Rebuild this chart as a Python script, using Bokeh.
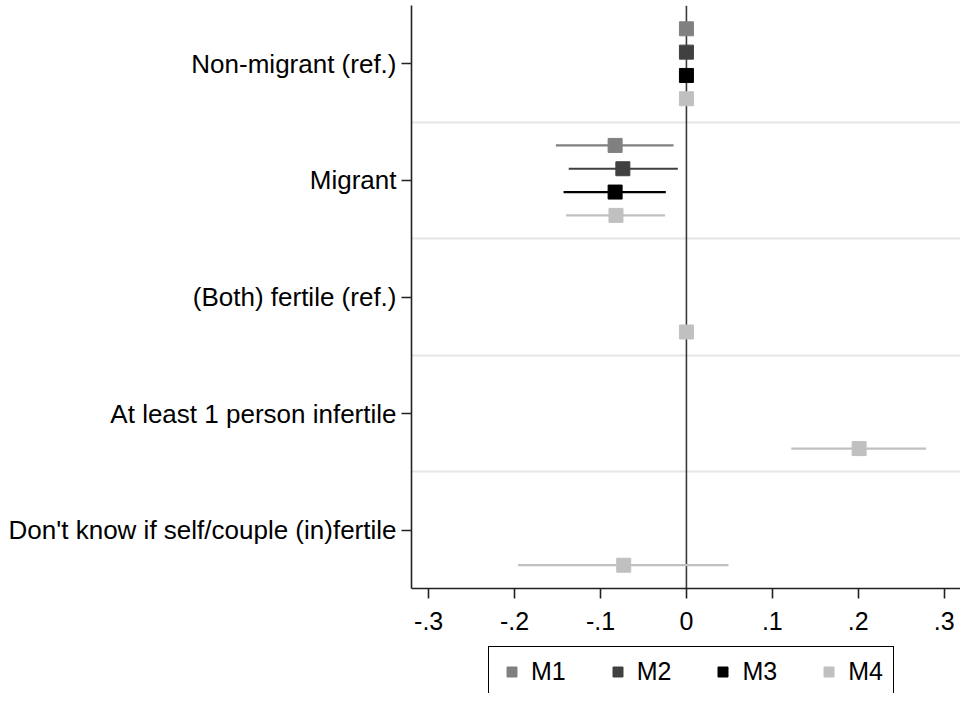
from bokeh.plotting import figure
from bokeh.layouts import column
from bokeh.models import (ColumnDataSource, Range1d, FixedTicker, Span, Legend, LegendItem)
from bokeh.embed import file_html
from bokeh.resources import INLINE
import math

# ---- data ----
categories = ["Non-migrant (ref.)", "Migrant", "(Both) fertile (ref.)",
              "At least 1 person infertile", "Don't know if self/couple (in)fertile"]
models = ["M1", "M2", "M3", "M4"]
colors = ["#808080", "#404040", "#000000", "#c0c0c0"]

nan = float("nan")
est_M1 = [0.0, -0.083, nan, nan, nan]
est_M2 = [0.0, -0.074, nan, nan, nan]
est_M3 = [0.0, -0.083, nan, nan, nan]
est_M4 = [0.0, -0.082, 0.0, 0.201, -0.073]

lo_M1 = [nan, -0.152, nan, nan, nan]
lo_M2 = [nan, -0.137, nan, nan, nan]
lo_M3 = [nan, -0.143, nan, nan, nan]
lo_M4 = [nan, -0.140, nan, 0.122, -0.196]

hi_M1 = [nan, -0.015, nan, nan, nan]
hi_M2 = [nan, -0.010, nan, nan, nan]
hi_M3 = [nan, -0.024, nan, nan, nan]
hi_M4 = [nan, -0.025, nan, 0.279, 0.049]

x_ticks = [-0.3, -0.2, -0.1, 0.0, 0.1, 0.2, 0.3]
x_tick_labels = ["-.3", "-.2", "-.1", "0", ".1", ".2", ".3"]

estimates = [est_M1, est_M2, est_M3, est_M4]
lows = [lo_M1, lo_M2, lo_M3, lo_M4]
highs = [hi_M1, hi_M2, hi_M3, hi_M4]
offsets = [-0.3, -0.1, 0.1, 0.3]

FONT = "Liberation Sans"

p = figure(width=960, height=643,
           x_range=Range1d(-0.32, 0.319), y_range=Range1d(4.5, -0.5),
           output_backend="svg", toolbar_location=None,
           min_border_left=411, min_border_right=0, min_border_top=5,
           min_border_bottom=55)
p.outline_line_color = None
p.background_fill_color = "white"

# zero reference line (under the glyphs)
p.add_layout(Span(location=0, dimension="height", line_color="#3a3a3a",
                  line_width=1.6, level="underlay"))

for m, col, est, lo, hi, off in zip(models, colors, estimates, lows, highs, offsets):
    ys, xs, ylo, xlo, xhi = [], [], [], [], []
    for i, v in enumerate(est):
        if not math.isnan(v):
            ys.append(i + off)
            xs.append(v)
        if not math.isnan(lo[i]):
            ylo.append(i + off)
            xlo.append(lo[i])
            xhi.append(hi[i])
    if ylo:
        seg = ColumnDataSource(dict(y=ylo, x0=xlo, x1=xhi))
        p.segment(x0="x0", x1="x1", y0="y", y1="y", source=seg,
                  line_color=col, line_width=2.2)
    src = ColumnDataSource(dict(x=xs, y=ys))
    p.scatter(x="x", y="y", source=src, marker="square", size=14,
              fill_color=col, line_color=col)

# axes
p.xaxis.ticker = FixedTicker(ticks=x_ticks)
p.xaxis.major_label_overrides = {t: l for t, l in zip(x_ticks, x_tick_labels)}
p.yaxis.ticker = FixedTicker(ticks=list(range(len(categories))))
p.yaxis.major_label_overrides = {i: c for i, c in enumerate(categories)}

for ax in (p.xaxis[0], p.yaxis[0]):
    ax.axis_line_color = "#222222"
    ax.axis_line_width = 1.6
    ax.major_tick_line_color = "#222222"
    ax.major_tick_line_width = 1.6
    ax.major_tick_in = 0
    ax.major_tick_out = 10
    ax.minor_tick_line_color = None
    ax.major_label_text_font = FONT
    ax.major_label_text_color = "black"

p.xaxis.major_label_text_font_size = "25px"
p.xaxis.major_label_standoff = 13
p.yaxis.major_label_text_font_size = "26px"
p.yaxis.major_label_standoff = 5

p.xgrid.visible = False
p.ygrid.ticker = FixedTicker(ticks=[0.5, 1.5, 2.5, 3.5])
p.ygrid.grid_line_color = "#e6e6e6"
p.ygrid.grid_line_width = 2.2

# ---- legend strip below the plot ----
lg = figure(width=960, height=50, x_range=Range1d(0, 1), y_range=Range1d(0, 1),
            output_backend="svg", toolbar_location=None,
            x_axis_location=None, y_axis_location=None,
            min_border_left=0, min_border_right=0, min_border_top=0,
            min_border_bottom=0)
lg.outline_line_color = None
lg.xgrid.visible = False
lg.ygrid.visible = False

legend_items = []
for m, col in zip(models, colors):
    # legend proxy: one undrawable (NaN) point so the legend has a glyph to show
    proxy = ColumnDataSource(dict(x=[nan], y=[nan]))
    r = lg.scatter(x="x", y="y", source=proxy, marker="square", size=14,
                   fill_color=col, line_color=col)
    legend_items.append(LegendItem(label=m, renderers=[r]))

legend = Legend(items=legend_items, orientation="horizontal", location=(77, -4))
legend.border_line_color = "black"
legend.border_line_alpha = 1.0
legend.border_line_width = 1.5
legend.background_fill_alpha = 1.0
legend.label_text_font = FONT
legend.label_text_font_size = "25px"
legend.label_text_color = "black"
legend.glyph_width = 25
legend.glyph_height = 25
legend.label_standoff = 7
legend.spacing = 39
legend.padding = 10
legend.margin = 0
lg.add_layout(legend)

layout = column(p, lg, spacing=0)
open("out.html", "w").write(file_html(layout, INLINE))
